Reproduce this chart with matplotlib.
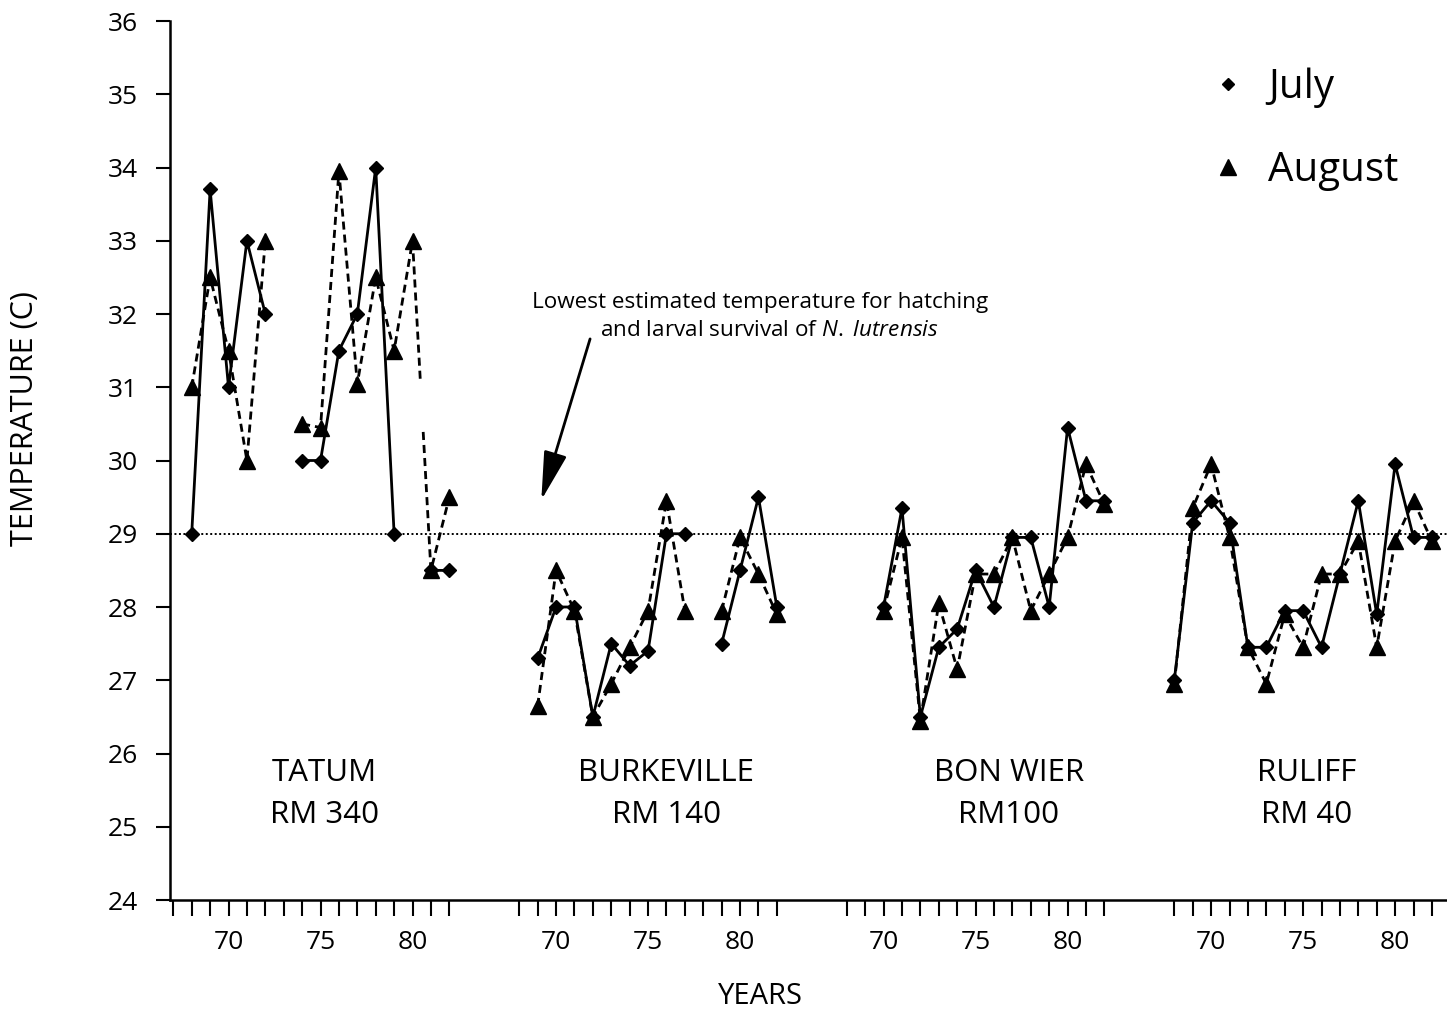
import numpy as np
import matplotlib
matplotlib.use('Agg')
import matplotlib.pyplot as plt
from matplotlib.lines import Line2D

plt.rcParams['font.family'] = ['Open Sans', 'DejaVu Sans']
plt.rcParams['mathtext.fontset'] = 'custom'
plt.rcParams['mathtext.rm'] = 'Open Sans'
plt.rcParams['mathtext.it'] = 'Open Sans:italic'

nan = np.nan
years = list(range(68, 83))
station_names = ['TATUM', 'BURKEVILLE', 'BON WIER', 'RULIFF']
station_rm = ['RM 340', 'RM 140', 'RM100', 'RM 40']
label_year = [75.2, 76.0, 76.8, 75.2]

tatum_july = [29.0, 33.7, 31.0, 33.0, 32.0, nan, 30.0, 30.0, 31.5, 32.0, 34.0, 29.0, nan, 28.5, 28.5]
tatum_aug = [31.0, 32.5, 31.5, 30.0, 33.0, nan, 30.5, 30.45, 33.95, 31.05, 32.5, 31.5, 33.0, 28.5, 29.5]
burk_july = [nan, 27.3, 28.0, 28.0, 26.5, 27.5, 27.2, 27.4, 29.0, 29.0, nan, 27.5, 28.5, 29.5, 28.0]
burk_aug = [nan, 26.65, 28.5, 27.95, 26.5, 26.95, 27.45, 27.95, 29.45, 27.95, nan, 27.95, 28.95, 28.45, 27.9]
bon_july = [nan, nan, 28.0, 29.35, 26.5, 27.45, 27.7, 28.5, 28.0, 28.95, 28.95, 28.0, 30.45, 29.45, 29.45]
bon_aug = [nan, nan, 27.95, 28.95, 26.45, 28.05, 27.15, 28.45, 28.45, 28.95, 27.95, 28.45, 28.95, 29.95, 29.4]
rul_july = [27.0, 29.15, 29.45, 29.15, 27.45, 27.45, 27.95, 27.95, 27.45, 28.45, 29.45, 27.9, 29.95, 28.95, 28.95]
rul_aug = [26.95, 29.35, 29.95, 28.95, 27.45, 26.95, 27.9, 27.45, 28.45, 28.45, 28.9, 27.45, 28.9, 29.45, 28.9]

july = [tatum_july, burk_july, bon_july, rul_july]
august = [tatum_aug, burk_aug, bon_aug, rul_aug]
# broken dashed segment (station index, year index) -> fractions of the gap
aug_breaks = {(0, 12): (0.42, 0.58)}

tick_years = [list(range(67, 83)), list(range(68, 83)), list(range(68, 83)), list(range(68, 83))]
label_years = [70, 75, 80]
threshold = 29

GROUP_SHIFT = 17.8

fig = plt.figure(figsize=(14.47, 10.17), dpi=100)
ax = fig.add_axes([170 / 1447, 1 - 900 / 1017, 1277 / 1447, (900 - 21) / 1017])
ax.set_xlim(66.82, 136.22)
ax.set_ylim(24, 36)

for s in ['top', 'right']:
    ax.spines[s].set_visible(False)
for s in ['left', 'bottom']:
    ax.spines[s].set_linewidth(1.8)

ax.axhline(threshold, color='black', lw=1.4, ls=(0, (1, 1.3)), zorder=1)


def broken_line(x, y, breaks):
    xs, ys = [], []
    n = len(x)
    for i in range(n):
        xs.append(x[i]); ys.append(y[i])
        if i in breaks and i + 1 < n:
            f1, f2 = breaks[i]
            dx = x[i + 1] - x[i]; dy = y[i + 1] - y[i]
            xs += [x[i] + f1 * dx, nan, x[i] + f2 * dx]
            ys += [y[i] + f1 * dy, nan, y[i] + f2 * dy]
    return xs, ys


for g in range(4):
    x = np.array(years, dtype=float) + g * GROUP_SHIFT
    yj = np.array(july[g], dtype=float)
    ya = np.array(august[g], dtype=float)
    br = {k[1]: v for k, v in aug_breaks.items() if k[0] == g}
    xa, yaa = broken_line(list(x), list(ya), br)
    ax.plot(xa, yaa, color='black', lw=2.0, ls=(0, (2.9, 1.8)), zorder=2)
    ax.plot(x, yj, color='black', lw=2.0, ls='-', zorder=3)
    ax.plot(x, ya, ls='none', marker='^', ms=11, color='black', zorder=4)
    ax.plot(x, yj, ls='none', marker='D', ms=7.6, color='black', zorder=5)
    ax.text(label_year[g] + g * GROUP_SHIFT, 25.73, station_names[g], ha='center', va='center', fontsize=22.5)
    ax.text(label_year[g] + g * GROUP_SHIFT, 25.16, station_rm[g], ha='center', va='center', fontsize=22.5)

ticks, tlabels = [], []
for g in range(4):
    for yv in tick_years[g]:
        ticks.append(yv + g * GROUP_SHIFT)
        tlabels.append(str(yv) if yv in label_years else '')
ax.set_xticks(ticks)
ax.set_xticklabels(tlabels)
ax.set_yticks(range(24, 37))
ax.tick_params(axis='x', direction='out', length=11.5, width=1.5, pad=10, labelsize=19)
ax.tick_params(axis='y', direction='out', length=10, width=1.5, pad=13, labelsize=19)

ax.annotate('', xy=(87.0, 29.46), xytext=(89.65, 31.66),
            arrowprops=dict(arrowstyle='-|>,head_length=1.5,head_width=0.36', lw=2,
                            color='black', mutation_scale=20, shrinkA=0, shrinkB=0))
ax.text(98.9, 32.16, 'Lowest estimated temperature for hatching', ha='center', va='center', fontsize=16.2)
ax.text(99.4, 31.78, r'and larval survival of $\mathit{N.}$ $\mathit{lutrensis}$', ha='center', va='center', fontsize=16.2)

handles = [Line2D([], [], marker='D', ms=6.5, color='black', ls='none'),
           Line2D([], [], marker='^', ms=11, color='black', ls='none')]
fig.legend(handles, ['July', 'August'], loc='upper left',
           bbox_to_anchor=(1208 / 1447, 1 - 68 / 1017), bbox_transform=fig.transFigure,
           fontsize=29, frameon=False, handlelength=1.0, handletextpad=0.5,
           borderpad=0, borderaxespad=0, labelspacing=1.05)

fig.text(25 / 1447, 1 - 419 / 1017, 'TEMPERATURE (C)', rotation=90, ha='center', va='center', fontsize=22)
fig.text(760 / 1447, 1 - 996 / 1017, 'YEARS', ha='center', va='center', fontsize=21)

fig.savefig('out.png', dpi=100)
